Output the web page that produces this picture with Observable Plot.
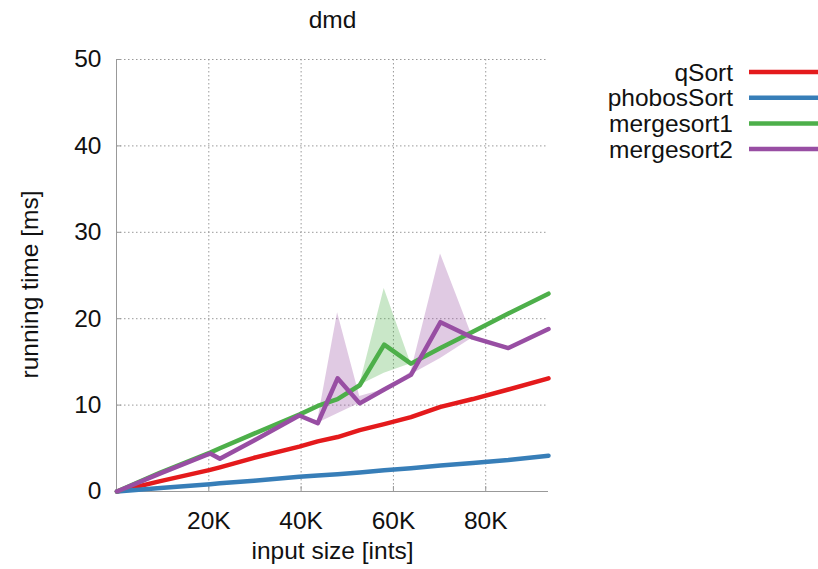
<!DOCTYPE html>
<html>
<head>
<meta charset="utf-8">
<script src="https://cdn.jsdelivr.net/npm/d3@7"></script>
<script src="https://cdn.jsdelivr.net/npm/@observablehq/plot@0.6"></script>
<style>
  html, body { margin: 0; padding: 0; background: #fff; }
  #chart { width: 818px; height: 569px; }
</style>
</head>
<body>
<div id="chart"></div>
<script>
// Input sizes (number of ints) at which each sort was timed
const inputSizes = [100, 9500, 20300, 22400, 29800, 39600, 43600, 47900, 52700, 58000, 63800, 70200, 77200, 84900, 93600];

// Median running times in ms
const qSort      = [0, 1.2, 2.5, 2.8, 3.9, 5.2, 5.8, 6.3, 7.1, 7.8, 8.6, 9.8, 10.7, 11.8, 13.1];
const phobosSort = [0, 0.4, 0.85, 0.95, 1.25, 1.7, 1.85, 2.0, 2.2, 2.45, 2.7, 3.0, 3.3, 3.65, 4.15];
const mergesort1 = [0, 2.2, 4.5, 5.0, 6.7, 8.9, 9.9, 10.7, 12.3, 17.0, 14.8, 16.6, 18.5, 20.6, 22.9];
const mergesort2 = [0, 2.1, 4.4, 3.8, 5.9, 8.8, 7.9, 13.1, 10.2, 11.8, 13.5, 19.6, 17.8, 16.6, 18.8];

// Spread of the measurements (min / max) for the merge sorts
const mergesort1Lo = [0, 2.2, 4.5, 5.0, 6.7, 8.9, 9.9, 10.7, 12.3, 13.7, 14.8, 16.6, 18.5, 20.6, 22.9];
const mergesort1Hi = [0, 2.2, 4.5, 5.0, 6.7, 8.9, 9.9, 10.7, 12.3, 23.5, 14.8, 16.6, 18.5, 20.6, 22.9];
const mergesort2Lo = [0, 2.1, 4.4, 3.8, 5.9, 8.8, 7.9, 9.0, 10.2, 11.8, 13.5, 15.4, 17.8, 16.6, 18.8];
const mergesort2Hi = [0, 2.1, 4.4, 3.8, 5.9, 8.8, 8.2, 20.7, 11.0, 11.8, 13.8, 27.5, 17.8, 16.6, 18.8];

const seriesNames  = ["qSort", "phobosSort", "mergesort1", "mergesort2"];
const seriesColors = ["#e41a1c", "#377eb8", "#4daf4a", "#984ea3"];
const xTicks = [20000, 40000, 60000, 80000];
const yTicks = [0, 10, 20, 30, 40, 50];

const seriesValues = [qSort, phobosSort, mergesort1, mergesort2];
const rows = seriesNames.flatMap((name, i) =>
  inputSizes.map((n, j) => ({name, n, t: seriesValues[i][j]})));

const bandRows = [
  {name: "mergesort1", lo: mergesort1Lo, hi: mergesort1Hi},
  {name: "mergesort2", lo: mergesort2Lo, hi: mergesort2Hi}
].flatMap(b => inputSizes.map((n, j) => ({name: b.name, n, lo: b.lo[j], hi: b.hi[j]})));

const font = "'Liberation Sans', Arial, sans-serif";
const fontSize = 24.5;
const axisGray = "#999";

const chart = Plot.plot({
  width: 818,
  height: 569,
  marginLeft: 116,
  marginRight: 270,
  marginTop: 59,
  marginBottom: 78,
  style: {fontFamily: font, fontSize: fontSize + "px", color: "#111", background: "#fff", overflow: "visible"},
  x: {domain: [0, 93600], label: null},
  y: {domain: [0, 50], label: null},
  color: {domain: seriesNames, range: seriesColors},
  marks: [
    // dotted grid
    Plot.gridX(xTicks, {stroke: axisGray, strokeOpacity: 1, strokeDasharray: "1.5,2.5"}),
    Plot.gridY(yTicks.slice(1), {stroke: axisGray, strokeOpacity: 1, strokeDasharray: "1.5,2.5"}),
    // axis lines
    Plot.ruleX([0], {stroke: axisGray}),
    Plot.ruleY([0], {stroke: axisGray}),
    // inward tick marks
    Plot.axisY(yTicks, {tickSize: 5, dx: 5, stroke: axisGray, tickFormat: () => "", label: null}),
    Plot.axisX(xTicks, {tickSize: 5, dy: -5, stroke: axisGray, tickFormat: () => "", label: null}),
    // tick labels
    Plot.axisY(yTicks, {tickSize: 0, tickPadding: 15, label: null, fill: "#111"}),
    Plot.axisX(xTicks, {tickSize: 0, tickPadding: 20, label: null, fill: "#111",
                        tickFormat: d => d / 1000 + "K"}),
    // measurement spread
    Plot.areaY(bandRows, {x: "n", y1: "lo", y2: "hi", z: "name", fill: "name", fillOpacity: 0.3}),
    // running time curves
    Plot.line(rows, {x: "n", y: "t", z: "name", stroke: "name", strokeWidth: 4.5}),
    // titles
    Plot.text(["dmd"], {frameAnchor: "top", lineAnchor: "middle", dy: -39, fontSize, fill: "#111"}),
    Plot.text(["input size [ints]"], {frameAnchor: "bottom", lineAnchor: "middle", dy: 60, fontSize, fill: "#111"}),
    Plot.text(["running time [ms]"], {frameAnchor: "left", textAnchor: "middle", lineAnchor: "middle",
                                      dx: -86, dy: 9, rotate: -90, fontSize, fill: "#111"})
  ]
});

// Legend on the right: label followed by a line sample
const legend = d3.select(chart).append("g")
  .attr("font-family", font)
  .attr("font-size", fontSize)
  .attr("fill", "#111");
seriesNames.forEach((name, i) => {
  const yy = 72 + i * 25.7;
  legend.append("text")
    .attr("x", 733).attr("y", yy).attr("dy", "0.35em")
    .attr("text-anchor", "end")
    .text(name);
  legend.append("line")
    .attr("x1", 749).attr("x2", 818).attr("y1", yy).attr("y2", yy)
    .attr("stroke", seriesColors[i]).attr("stroke-width", 4.5);
});

document.getElementById("chart").appendChild(chart);
</script>
</body>
</html>
